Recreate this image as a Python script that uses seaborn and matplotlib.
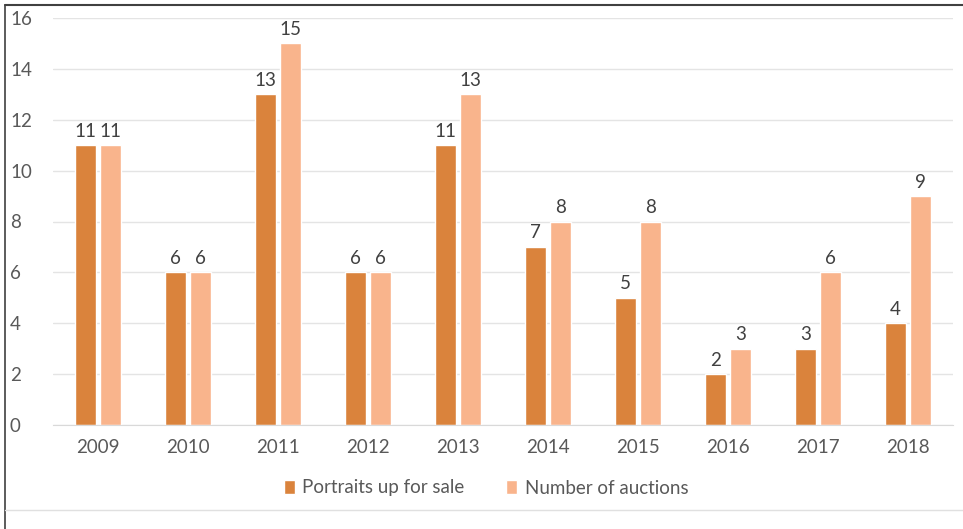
import matplotlib
matplotlib.use("Agg")
import matplotlib.pyplot as plt
import seaborn as sns
import pandas as pd
from matplotlib.lines import Line2D
from matplotlib.patches import Patch

years = ["2009", "2010", "2011", "2012", "2013", "2014", "2015", "2016", "2017", "2018"]
portraits = [11, 6, 13, 6, 11, 7, 5, 2, 3, 4]
auctions = [11, 6, 15, 6, 13, 8, 8, 3, 6, 9]
series_names = ["Portraits up for sale", "Number of auctions"]
colors = ["#DA833C", "#F9B48C"]

df = pd.DataFrame({
    "year": years * 2,
    "value": portraits + auctions,
    "series": [series_names[0]] * len(years) + [series_names[1]] * len(years),
})

sns.set_style("white")
plt.rcParams["font.family"] = ["Lato", "DejaVu Sans"]

W, H = 963, 529
fig = plt.figure(figsize=(W / 100, H / 100), dpi=100)
ax = fig.add_axes([53 / W, 1 - 425 / H, 900 / W, (425 - 18) / H])

sns.barplot(data=df, x="year", y="value", hue="series", palette=colors,
            width=0.556, gap=0.16, ax=ax, legend=False, saturation=1)

ax.set_ylim(0, 16)
ax.set_yticks(range(0, 17, 2))
ax.set_xlim(-0.5, len(years) - 0.5)
ax.grid(axis="y", color="#E4E4E4", linewidth=1)
ax.set_axisbelow(True)
for s in ["top", "right", "left"]:
    ax.spines[s].set_visible(False)
ax.spines["bottom"].set_color("#D9D9D9")
ax.set_xlabel("")
ax.set_ylabel("")
ax.tick_params(axis="both", length=0, labelsize=13.5, labelcolor="#595959")
ax.tick_params(axis="x", pad=10)
ax.tick_params(axis="y", pad=31)
for lbl in ax.get_yticklabels():
    lbl.set_horizontalalignment("left")

for c in ax.containers:
    ax.bar_label(c, padding=4, fontsize=13.5, color="#404040")

handles = [Patch(facecolor=colors[0]), Patch(facecolor=colors[1])]
fig.legend(handles, series_names, loc="center", bbox_to_anchor=(486 / W, 1 - 488 / H),
           ncol=2, frameon=False, fontsize=13.5, labelcolor="#595959",
           handlelength=0.6, handleheight=0.7, handletextpad=0.4, columnspacing=2.2)

# frame lines
fig.add_artist(Line2D([5 / W, 1], [1 - 5 / H, 1 - 5 / H], color="#404040", linewidth=1.5))
fig.add_artist(Line2D([5 / W, 5 / W], [0, 1 - 5 / H], color="#404040", linewidth=1.2))
fig.add_artist(Line2D([5 / W, 1], [1 - 510 / H, 1 - 510 / H], color="#E0E0E0", linewidth=1))

fig.savefig("out.png", dpi=100)
